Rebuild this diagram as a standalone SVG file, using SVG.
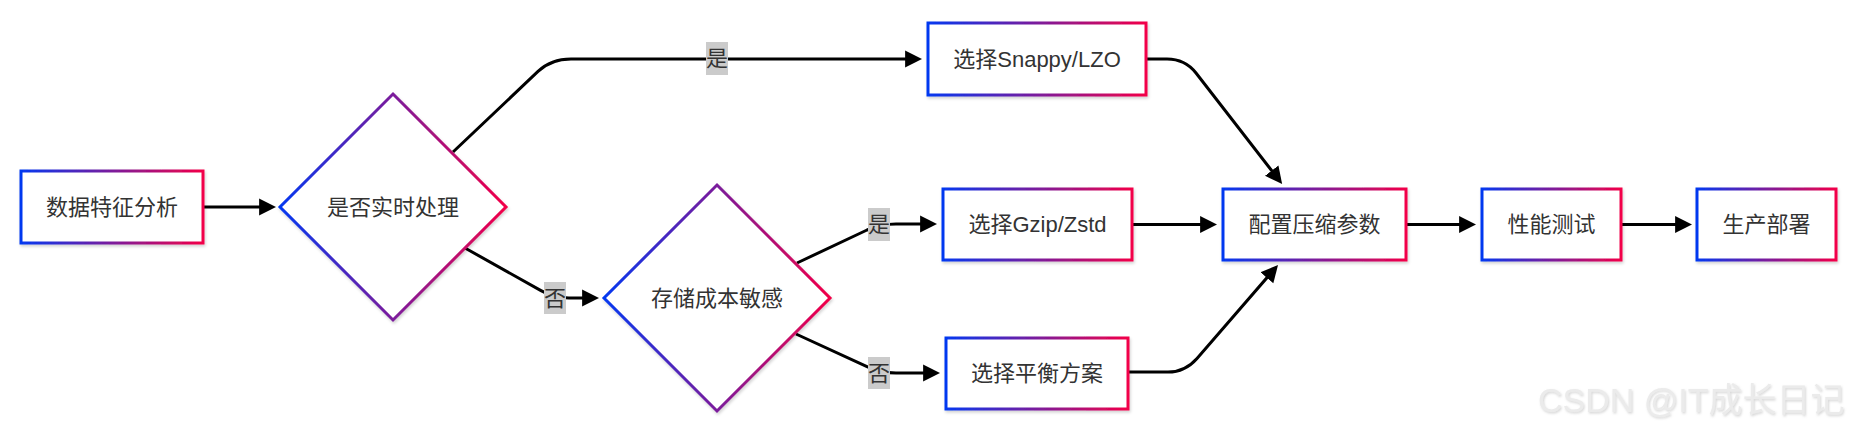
<svg xmlns="http://www.w3.org/2000/svg" width="1852" height="430" viewBox="0 0 1852 430">
<defs>
<linearGradient id="g" x1="0" y1="0" x2="1" y2="0">
<stop offset="0" stop-color="#0438f0"/>
<stop offset="1" stop-color="#f20048"/>
</linearGradient>
<filter id="sh" x="-10%" y="-10%" width="120%" height="130%">
<feDropShadow dx="1" dy="2" stdDeviation="1.5" flood-color="#000" flood-opacity="0.18"/>
</filter>
<filter id="wm" x="-5%" y="-20%" width="110%" height="140%">
<feDropShadow dx="1" dy="1.5" stdDeviation="0.8" flood-color="#999" flood-opacity="0.4"/>
</filter>
<marker id="ah" viewBox="0 0 10 10" refX="7" refY="5" markerWidth="17" markerHeight="18" markerUnits="userSpaceOnUse" orient="auto">
<path d="M0,0 L10,5 L0,10 z" fill="#000"/>
</marker>
</defs>
<style>
.n rect, .n polygon { fill: #fff; stroke: url(#g); stroke-width: 3; filter: url(#sh); }
.t { font-family: "Liberation Sans", "Noto Sans CJK SC", sans-serif; font-size: 22px; fill: #333; text-anchor: middle; dominant-baseline: central; }
.e path { fill: none; stroke: #000; stroke-width: 3; marker-end: url(#ah); }
.lb rect { fill: #cbcbcb; }
.lb text { font-family: "Liberation Sans", "Noto Sans CJK SC", sans-serif; font-size: 22px; fill: #333; text-anchor: middle; dominant-baseline: central; }
</style>
<rect width="1852" height="430" fill="#fff"/>
<g id="connectors" class="e">
<path d="M203,207 L271,207"/>
<path d="M453,152 L538,71.4 Q551,59 571,59 L917,59"/>
<path d="M465,248 L541,290.6 Q554,298 569,298 L594,298"/>
<path d="M797,263 L867,230 Q881,224 896,224 L932,224"/>
<path d="M796,334 L867,366.6 Q881,373 896,373 L935,373"/>
<path d="M1146,59 L1167,59 Q1185,59 1196,73 L1279,180"/>
<path d="M1132,224.5 L1212,224.5"/>
<path d="M1128,372 L1168,372 Q1185,372 1197,358.4 L1274.7,268.8"/>
<path d="M1406,224.5 L1471,224.5"/>
<path d="M1621,224.5 L1687,224.5"/>
</g>
<g id="edge-labels" class="lb">
<g id="label-yes-1"><rect x="706" y="42" width="22" height="33"/><text x="717" y="58.5">是</text></g>
<g id="label-no-1"><rect x="544" y="282" width="22" height="32"/><text x="555" y="298">否</text></g>
<g id="label-yes-2"><rect x="868" y="208" width="22" height="33"/><text x="879" y="224.5">是</text></g>
<g id="label-no-2"><rect x="868" y="357" width="22" height="32"/><text x="879" y="373">否</text></g>
</g>
<g id="node-A" class="n"><rect x="21" y="171" width="182" height="72"/><text class="t" x="112" y="207">数据特征分析</text></g>
<g id="node-B" class="n"><polygon points="393,94 506,207 393,320 280,207"/><text class="t" x="393" y="207">是否实时处理</text></g>
<g id="node-C" class="n"><rect x="928" y="23" width="218" height="72"/><text class="t" x="1037" y="59">选择Snappy/LZO</text></g>
<g id="node-D" class="n"><polygon points="717,185 830,298 717,411 604,298"/><text class="t" x="717" y="298">存储成本敏感</text></g>
<g id="node-E" class="n"><rect x="943" y="189" width="189" height="71"/><text class="t" x="1037.5" y="224.5">选择Gzip/Zstd</text></g>
<g id="node-F" class="n"><rect x="946" y="338" width="182" height="71"/><text class="t" x="1037" y="373.5">选择平衡方案</text></g>
<g id="node-G" class="n"><rect x="1223" y="189" width="183" height="71"/><text class="t" x="1314.5" y="224.5">配置压缩参数</text></g>
<g id="node-H" class="n"><rect x="1482" y="189" width="139" height="71"/><text class="t" x="1551.5" y="224.5">性能测试</text></g>
<g id="node-I" class="n"><rect x="1697" y="189" width="139" height="71"/><text class="t" x="1766.5" y="224.5">生产部署</text></g>
<text x="1538" y="412" font-family="Liberation Sans, Noto Sans CJK SC, sans-serif" font-size="34" fill="#ebebeb" filter="url(#wm)">CSDN @IT成长日记</text>
</svg>
